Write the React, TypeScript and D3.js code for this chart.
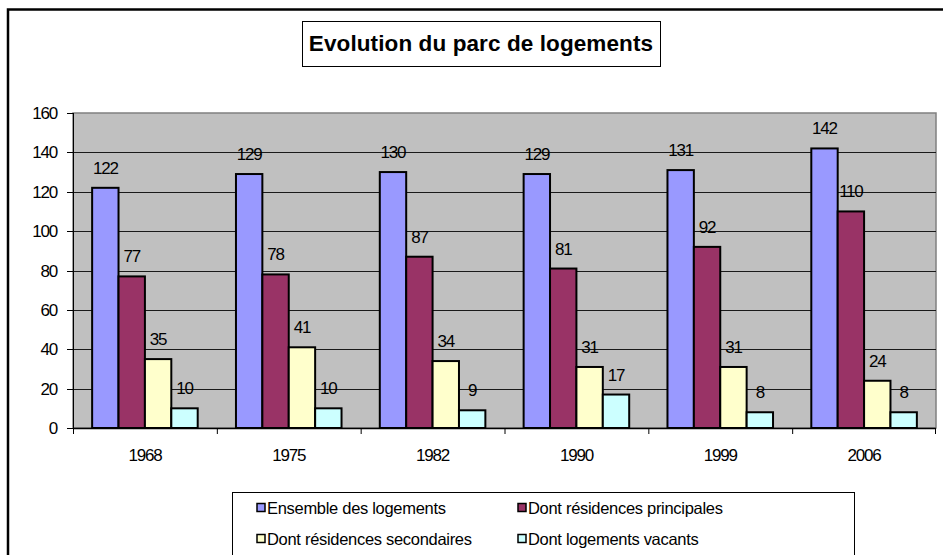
import React from "react";
import * as d3 from "d3";

const years = ["1968", "1975", "1982", "1990", "1999", "2006"];
const ensemble = [122, 129, 130, 129, 131, 142];
const principales = [77, 78, 87, 81, 92, 110];
const secondaires = [35, 41, 34, 31, 31, 24];
const vacants = [10, 10, 9, 17, 8, 8];
const seriesNames = [
  "Ensemble des logements",
  "Dont résidences principales",
  "Dont résidences secondaires",
  "Dont logements vacants",
];
const seriesColors = ["#9999FF", "#993366", "#FFFFCC", "#CCFFFF"];
const yTicks = [0, 20, 40, 60, 80, 100, 120, 140, 160];
const title = "Evolution du parc de logements";

const W = 943;
const H = 555;
const plot = { left: 73, top: 113, right: 936, bottom: 428 };
const FONT = "'Liberation Sans', Arial, sans-serif";

export default function App() {
  const series = [ensemble, principales, secondaires, vacants];
  const x = d3.scaleBand<string>().domain(years).range([plot.left, plot.right]).padding(0);
  const y = d3.scaleLinear().domain([0, 160]).range([plot.bottom, plot.top]);
  const bw = x.bandwidth();
  const barW = bw / 5.45;
  const groupOffset = (bw - barW * 4) / 2;

  return (
    <div style={{ position: "fixed", left: 0, top: 0, width: W, height: H, background: "#fff" }}>
      <svg width={W} height={H} style={{ display: "block", fontFamily: FONT }}>
        <rect x={0} y={0} width={W} height={H} fill="#fff" />
        {/* outer frame */}
        <rect x={8} y={9.5} width={1200} height={1200} fill="none" stroke="#000" strokeWidth={2.5} />
        {/* title */}
        <rect x={302.5} y={21.5} width={358} height={45} fill="#fff" stroke="#000" strokeWidth={1} />
        <text x={481} y={51} textAnchor="middle" fontSize={22.5} fontWeight="bold" letterSpacing={0.1} fill="#000">
          {title}
        </text>
        {/* plot area */}
        <rect x={plot.left} y={plot.top} width={plot.right - plot.left} height={plot.bottom - plot.top} fill="#C0C0C0" stroke="#808080" strokeWidth={1.5} />
        {yTicks.slice(1, -1).map((t) => (
          <line key={"g" + t} x1={plot.left} x2={plot.right} y1={Math.round(y(t)) + 0.5} y2={Math.round(y(t)) + 0.5} stroke="#1a1a1a" strokeWidth={1.2} />
        ))}
        {/* y axis */}
        <line x1={plot.left + 0.5} x2={plot.left + 0.5} y1={plot.top} y2={plot.bottom} stroke="#000" strokeWidth={1} />
        {yTicks.map((t) => (
          <g key={"yt" + t}>
            <line x1={plot.left - 6} x2={plot.left} y1={Math.round(y(t)) + 0.5} y2={Math.round(y(t)) + 0.5} stroke="#000" />
            <text x={57} y={y(t)} dy="0.36em" textAnchor="end" fontSize={17} letterSpacing={-1.2} fill="#000">
              {t}
            </text>
          </g>
        ))}
        {/* bars */}
        {years.map((yr, i) => (
          <g key={yr}>
            {series.map((s, j) => {
              const bx = (x(yr) as number) + groupOffset + j * barW;
              const by = y(s[i]);
              return (
                <g key={j}>
                  <rect x={bx} y={by} width={barW} height={plot.bottom - by} fill={seriesColors[j]} stroke="#000" strokeWidth={2} />
                  <text x={bx + barW / 2} y={by - 14} textAnchor="middle" fontSize={17} letterSpacing={-1.2} fill="#000">
                    {s[i]}
                  </text>
                </g>
              );
            })}
          </g>
        ))}
        {/* x axis */}
        <line x1={plot.left} x2={plot.right} y1={plot.bottom + 0.5} y2={plot.bottom + 0.5} stroke="#000" strokeWidth={1.5} />
        {years.map((yr) => (
          <line key={"xt" + yr} x1={(x(yr) as number) + 0.5} x2={(x(yr) as number) + 0.5} y1={plot.bottom} y2={plot.bottom + 6} stroke="#000" />
        ))}
        <line x1={plot.right - 0.5} x2={plot.right - 0.5} y1={plot.bottom} y2={plot.bottom + 6} stroke="#000" />
        {years.map((yr) => (
          <text key={"xl" + yr} x={(x(yr) as number) + bw / 2} y={461} textAnchor="middle" fontSize={17} letterSpacing={-1.2} fill="#000">
            {yr}
          </text>
        ))}
        {/* legend */}
        <rect x={232.5} y={492.5} width={622} height={100} fill="#fff" stroke="#000" strokeWidth={1} />
        {seriesNames.map((name, k) => {
          const col = k % 2;
          const row = Math.floor(k / 2);
          const mx = col === 0 ? 257 : 518;
          const cy = row === 0 ? 508 : 539;
          return (
            <g key={name}>
              <rect x={mx} y={cy - 4.5} width={8} height={8} fill={seriesColors[k]} stroke="#000" strokeWidth={1.5} />
              <text x={mx + 10} y={cy} dy="0.36em" fontSize={16.5} letterSpacing={-0.3} fill="#000">
                {name}
              </text>
            </g>
          );
        })}
      </svg>
    </div>
  );
}
